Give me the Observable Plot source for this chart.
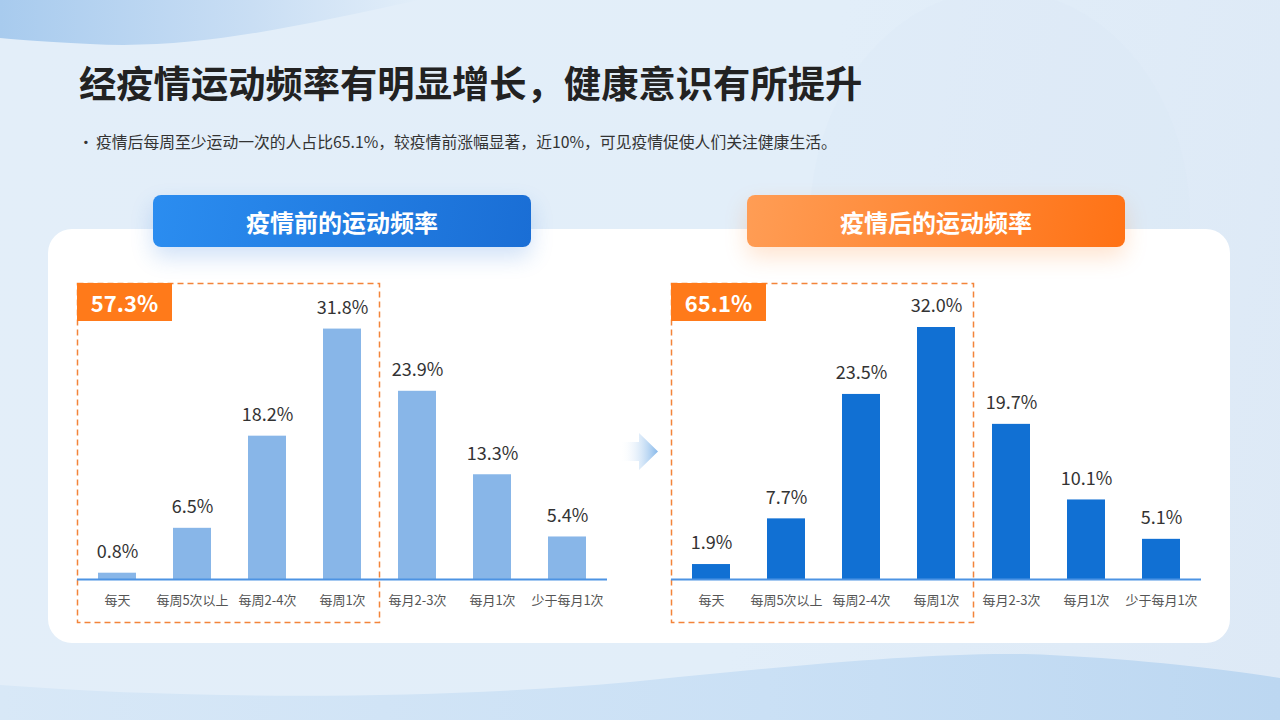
<!DOCTYPE html>
<html>
<head>
<meta charset="utf-8">
<script src="https://cdn.jsdelivr.net/npm/d3@7"></script>
<script src="https://cdn.jsdelivr.net/npm/@observablehq/plot@0.6"></script>
<style>
  html, body { margin: 0; padding: 0; }
  body { width: 1280px; height: 720px; overflow: hidden; position: relative;
    font-family: "Noto Sans CJK SC", "Noto Sans", sans-serif;
    background: linear-gradient(100deg, #e3eef9 0%, #e2eef9 60%, #dde9f6 100%); }
  .abs { position: absolute; }
  #title { left: 79px; top: 56px; font-size: 37.3px; font-weight: 700; color: #222; line-height: 52px; white-space: nowrap; }
  #sub { left: 78px; top: 130px; font-size: 15.8px; color: #333; line-height: 24px; white-space: nowrap; }
  #sub span { display: inline-block; width: 18px; }
  #card { left: 48px; top: 229px; width: 1182px; height: 414px; background: #fff; border-radius: 24px; }
  .pill { top: 195px; height: 52px; border-radius: 8px; color: #fff; font-weight: 700; font-size: 24px;
    display: flex; align-items: center; justify-content: center; }
  #pillL { left: 153px; width: 378px; background: linear-gradient(100deg, #2b8df0, #1a6ed5); box-shadow: 0 10px 22px rgba(40,120,220,0.22); }
  #pillR { left: 747px; width: 378px; background: linear-gradient(100deg, #ff9d55, #ff7215); box-shadow: 0 10px 22px rgba(255,130,40,0.22); }
  .tag { top: 283px; height: 38px; width: 95px; background: #ff7a1a; color: #fff; font-weight: 700; font-size: 22px;
    display: flex; align-items: center; justify-content: center; }
  .chart { top: 240px; }
  .chart svg { overflow: visible; }
</style>
</head>
<body>
<svg class="abs" style="left:0;top:0" width="1280" height="720">
  <defs>
    <linearGradient id="gTop" x1="0" x2="1" y1="0" y2="0">
      <stop offset="0" stop-color="#a8cbee"/>
      <stop offset="0.6" stop-color="#c9def4"/>
      <stop offset="1" stop-color="#e2eef9"/>
    </linearGradient>
    <linearGradient id="gBot" x1="0" x2="1" y1="0" y2="0">
      <stop offset="0" stop-color="#d8e8f7"/>
      <stop offset="0.6" stop-color="#cae0f5"/>
      <stop offset="1" stop-color="#bcd7f1"/>
    </linearGradient>
    <linearGradient id="gArrow" x1="0" x2="1" y1="0" y2="0">
      <stop offset="0" stop-color="#ffffff" stop-opacity="0"/>
      <stop offset="1" stop-color="#86b8ea"/>
    </linearGradient>
  </defs>
  <path d="M0,0 L420,0 C300,25 200,50 90,44 C50,42 20,40 0,38 Z" fill="url(#gTop)"/>
  <path d="M0,685 C200,700 450,700 650,680 C800,665 950,650 1050,655 C1150,660 1230,670 1280,678 L1280,720 L0,720 Z" fill="url(#gBot)"/>
  <ellipse cx="1000" cy="220" rx="190" ry="230" fill="#d8e7f6" opacity="0.2"/>
</svg>
<div id="title" class="abs">经疫情运动频率有明显增长，健康意识有所提升</div>
<div id="sub" class="abs"><span>•</span>疫情后每周至少运动一次的人占比65.1%，较疫情前涨幅显著，近10%，可见疫情促使人们关注健康生活。</div>
<div id="card" class="abs"></div>
<svg class="abs" style="left:0;top:0;pointer-events:none" width="1280" height="720">
  <rect x="77.5" y="283.5" width="302" height="339" fill="none" stroke="#f3843a" stroke-width="1.5" stroke-dasharray="6 4"/>
  <rect x="671.5" y="283.5" width="302" height="339" fill="none" stroke="#f3843a" stroke-width="1.5" stroke-dasharray="6 4"/>
</svg>
<div id="pillL" class="abs pill">疫情前的运动频率</div>
<div id="pillR" class="abs pill">疫情后的运动频率</div>
<svg class="abs" style="left:615px;top:430px" width="50" height="45">
  <path d="M5,12 L24,12 L24,3 L43,21.5 L24,40 L24,31 L5,31 Z" fill="url(#gArrow)"/>
</svg>
<div id="tagL" class="abs tag" style="left:77px"></div>
<div id="tagR" class="abs tag" style="left:671px"></div>
<div id="chartL" class="abs chart" style="left:77px"></div>
<div id="chartR" class="abs chart" style="left:671px"></div>
<script>
const categories = ["每天", "每周5次以上", "每周2-4次", "每周1次", "每月2-3次", "每月1次", "少于每月1次"];
const beforeValues = [0.8, 6.5, 18.2, 31.8, 23.9, 13.3, 5.4];
const afterValues = [1.9, 7.7, 23.5, 32.0, 19.7, 10.1, 5.1];
const weeklyTotals = ["57.3%", "65.1%"];
const barColors = ["#88b6e8", "#1170d3"];

function makeChart(values, color) {
  const data = categories.map((c, i) => ({cat: c, v: values[i]}));
  return Plot.plot({
    width: 530, height: 389,
    marginLeft: 0, marginRight: 0, marginTop: 24, marginBottom: 50,
    style: {background: "transparent", overflow: "visible", fontFamily: "'Noto Sans CJK SC', sans-serif"},
    x: {domain: categories, paddingInner: 0.5, paddingOuter: 0.25, label: null},
    y: {domain: [0, 40], axis: null},
    marks: [
      Plot.barY(data, {x: "cat", y: "v", fill: color}),
      Plot.ruleY([0], {stroke: "#4d93e3", strokeWidth: 2}),
      Plot.text(data, {x: "cat", y: "v", text: d => d.v.toFixed(1) + "%", dy: -21, fontSize: 18, fill: "#333"}),
      Plot.axisX({tickSize: 0, tickPadding: 16, fontSize: 13, color: "#555", label: null})
    ]
  });
}
document.getElementById("chartL").appendChild(makeChart(beforeValues, barColors[0]));
document.getElementById("chartR").appendChild(makeChart(afterValues, barColors[1]));
document.getElementById("tagL").textContent = weeklyTotals[0];
document.getElementById("tagR").textContent = weeklyTotals[1];
</script>
</body>
</html>
